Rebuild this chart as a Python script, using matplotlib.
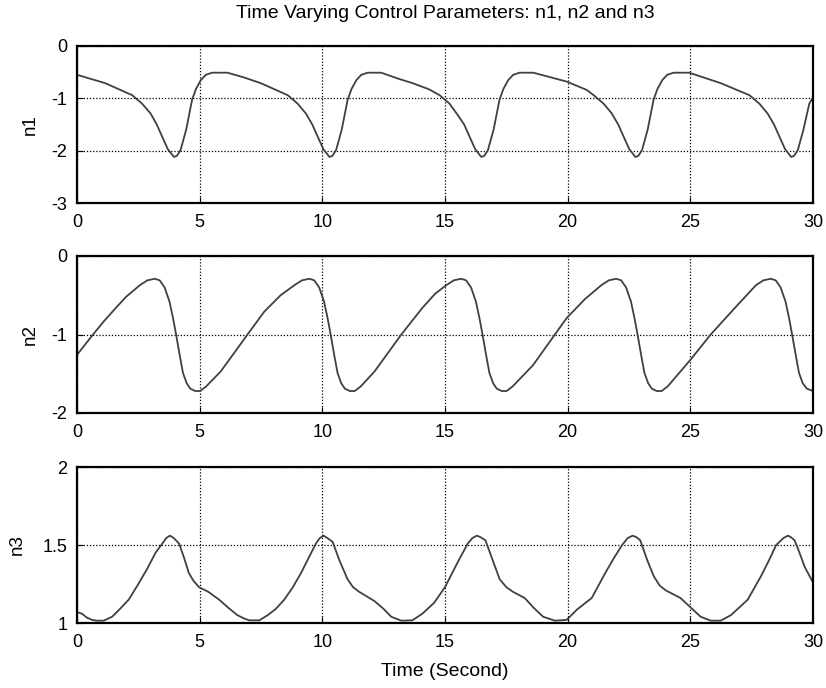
import numpy as np
import matplotlib
matplotlib.use("Agg")
from matplotlib import pyplot as plt

# n1
t1 = [0.0, 1.15, 2.25, 2.65, 3.0, 3.25, 3.47, 3.7, 3.95, 4.07, 4.22, 4.45, 4.69, 4.85,
      5.05, 5.25, 5.51, 6.13, 6.8, 7.49, 8.59, 8.99, 9.33, 9.59, 9.81, 10.04, 10.29, 10.41,
      10.56, 10.79, 11.03, 11.19, 11.39, 11.59, 11.85, 12.4, 13.13, 13.68, 14.36, 14.78,
      15.18, 15.52, 15.78, 16.0, 16.23, 16.48, 16.6, 16.75, 16.98, 17.22, 17.38, 17.58,
      17.78, 18.04, 18.6, 19.96, 20.78, 21.06, 21.46, 21.8, 22.06, 22.28, 22.51, 22.76,
      22.88, 23.03, 23.26, 23.5, 23.66, 23.86, 24.06, 24.32, 24.95, 26.24, 27.41, 27.81,
      28.15, 28.41, 28.63, 28.86, 29.11, 29.23, 29.38, 29.61, 29.85, 30.0]
n1 = [-0.55, -0.71, -0.94, -1.1, -1.29, -1.5, -1.73, -1.97, -2.12, -2.1, -1.99, -1.6,
      -1.03, -0.82, -0.65, -0.55, -0.51, -0.51, -0.6, -0.71, -0.94, -1.1, -1.29, -1.5,
      -1.73, -1.97, -2.12, -2.1, -1.99, -1.6, -1.03, -0.82, -0.65, -0.55, -0.51, -0.51,
      -0.63, -0.71, -0.83, -0.94, -1.1, -1.32, -1.5, -1.73, -1.97, -2.12, -2.1, -1.99,
      -1.6, -1.03, -0.82, -0.65, -0.55, -0.51, -0.51, -0.68, -0.84, -0.94, -1.1, -1.29,
      -1.5, -1.73, -1.97, -2.12, -2.1, -1.99, -1.6, -1.03, -0.82, -0.65, -0.55, -0.51,
      -0.51, -0.71, -0.94, -1.1, -1.29, -1.5, -1.73, -1.97, -2.12, -2.1, -1.99, -1.6,
      -1.1, -0.98]

# n2
t2 = [0.0, 0.35, 0.68, 1.1, 1.5, 2.0, 2.57, 2.87, 3.17, 3.37, 3.57, 3.77, 3.92, 4.05,
      4.19, 4.32, 4.47, 4.62, 4.82, 5.02, 5.27, 5.86, 6.95, 7.63, 8.3, 8.87, 9.17, 9.47,
      9.67, 9.87, 10.07, 10.22, 10.35, 10.49, 10.62, 10.77, 10.92, 11.12, 11.32, 11.57,
      12.13, 13.22, 14.08, 14.6, 15.06, 15.36, 15.66, 15.86, 16.06, 16.26, 16.41, 16.54,
      16.68, 16.81, 16.96, 17.11, 17.31, 17.51, 17.76, 18.59, 19.48, 19.96, 20.7, 21.38,
      21.68, 21.98, 22.18, 22.38, 22.58, 22.73, 22.86, 23.0, 23.13, 23.28, 23.43, 23.63,
      23.83, 24.08, 25.01, 25.83, 26.79, 27.68, 27.98, 28.28, 28.48, 28.68, 28.88, 29.03,
      29.16, 29.3, 29.43, 29.58, 29.75, 30.0]
n2 = [-1.26, -1.12, -0.99, -0.83, -0.69, -0.52, -0.37, -0.31, -0.29, -0.31, -0.4, -0.58,
      -0.8, -1.02, -1.27, -1.49, -1.62, -1.69, -1.72, -1.72, -1.66, -1.47, -1.0, -0.71,
      -0.5, -0.37, -0.31, -0.29, -0.31, -0.4, -0.58, -0.8, -1.02, -1.27, -1.49, -1.62,
      -1.69, -1.72, -1.72, -1.66, -1.47, -1.0, -0.66, -0.48, -0.37, -0.31, -0.29, -0.31,
      -0.4, -0.58, -0.8, -1.02, -1.27, -1.49, -1.62, -1.69, -1.72, -1.72, -1.66, -1.39,
      -1.0, -0.79, -0.55, -0.37, -0.31, -0.29, -0.31, -0.4, -0.58, -0.8, -1.02, -1.27,
      -1.49, -1.62, -1.69, -1.72, -1.72, -1.66, -1.32, -1.0, -0.67, -0.37, -0.31, -0.29,
      -0.31, -0.4, -0.58, -0.8, -1.02, -1.27, -1.49, -1.62, -1.69, -1.72]

# n3
t3 = [0.0, 0.2, 0.4, 0.61, 0.8, 1.09, 1.43, 1.75, 2.11, 2.5, 2.87, 3.2, 3.48, 3.64, 3.79,
      3.94, 4.16, 4.36, 4.56, 4.75, 4.97, 5.35, 5.79, 6.15, 6.54, 6.8, 7.02, 7.43, 7.77,
      8.1, 8.45, 8.8, 9.13, 9.45, 9.74, 9.9, 10.05, 10.2, 10.42, 10.7, 11.03, 11.25, 11.5,
      12.13, 12.5, 12.81, 13.22, 13.67, 14.08, 14.56, 15.0, 15.52, 15.93, 16.12, 16.3,
      16.45, 16.65, 16.95, 17.23, 17.5, 17.77, 18.25, 18.6, 19.0, 19.48, 19.96, 20.37,
      20.98, 21.53, 21.9, 22.22, 22.45, 22.65, 22.8, 22.96, 23.25, 23.51, 23.75, 23.99,
      24.6, 25.01, 25.42, 25.83, 26.24, 26.65, 27.0, 27.34, 27.88, 28.2, 28.5, 28.8, 28.98,
      29.1, 29.25, 29.45, 29.66, 30.0]
n3 = [1.07, 1.06, 1.035, 1.02, 1.015, 1.015, 1.04, 1.09, 1.15, 1.25, 1.35, 1.45, 1.51,
      1.545, 1.56, 1.545, 1.51, 1.42, 1.32, 1.27, 1.23, 1.2, 1.15, 1.1, 1.05, 1.03, 1.017,
      1.017, 1.05, 1.09, 1.15, 1.23, 1.32, 1.42, 1.51, 1.545, 1.56, 1.545, 1.52, 1.4, 1.28,
      1.23, 1.2, 1.14, 1.09, 1.04, 1.015, 1.017, 1.06, 1.13, 1.23, 1.39, 1.51, 1.545, 1.56,
      1.55, 1.53, 1.4, 1.28, 1.23, 1.2, 1.16, 1.1, 1.04, 1.015, 1.02, 1.085, 1.16, 1.32,
      1.42, 1.5, 1.545, 1.56, 1.55, 1.53, 1.4, 1.3, 1.24, 1.21, 1.16, 1.1, 1.04, 1.015,
      1.015, 1.05, 1.1, 1.15, 1.3, 1.4, 1.5, 1.545, 1.56, 1.55, 1.53, 1.45, 1.36, 1.26]

xticks = [0, 5, 10, 15, 20, 25, 30]
series = [
    (t1, n1, "n1", (-3, 0), [-3, -2, -1, 0], ["-3", "-2", "-1", "0"]),
    (t2, n2, "n2", (-2, 0), [-2, -1, 0], ["-2", "-1", "0"]),
    (t3, n3, "n3", (1, 2), [1, 1.5, 2], ["1", "1.5", "2"]),
]

plt.rcParams['font.family'] = ['Liberation Sans', 'DejaVu Sans']

W, H = 826, 688
fig = plt.figure(figsize=(W / 100, H / 100), dpi=100)

# axes boxes in pixels: (left, top, right, bottom), ylabel offset
boxes = [(77, 46, 813, 203, 38), (77, 256, 813, 413, 38), (77, 467, 813, 623, 51)]

for (t, v, name, ylim, yt, ytl), (l, tp, r, b, lab_off) in zip(series, boxes):
    ax = fig.add_axes([l / W, 1 - b / H, (r - l) / W, (b - tp) / H])
    ax.plot(t, v, color="#404040", lw=1.3)
    ax.set_xlim(0, 30)
    ax.set_ylim(*ylim)
    ax.set_xticks(xticks)
    ax.set_xticklabels([str(x) for x in xticks])
    ax.set_yticks(yt)
    ax.set_yticklabels(ytl)
    ax.grid(True, color="black", linestyle=(0, (1, 1.5)), lw=0.9)
    ax.tick_params(direction="in", length=4, labelsize=13, color="black")
    ax.tick_params(axis="x", pad=8)
    ax.tick_params(axis="y", pad=7)
    for s in ax.spines.values():
        s.set_linewidth(1.6)
    ax.set_ylabel(name, fontsize=13.5)
    ax.yaxis.set_label_coords(-lab_off / (r - l), 0.5)

fig.text(445 / W, 1 - 14 / H, "Time Varying Control Parameters: n1, n2 and n3",
         ha="center", va="center", fontsize=14)
fig.text(445 / W, 1 - 671 / H, "Time (Second)", ha="center", va="center", fontsize=14)

fig.savefig("out.png", dpi=100)
